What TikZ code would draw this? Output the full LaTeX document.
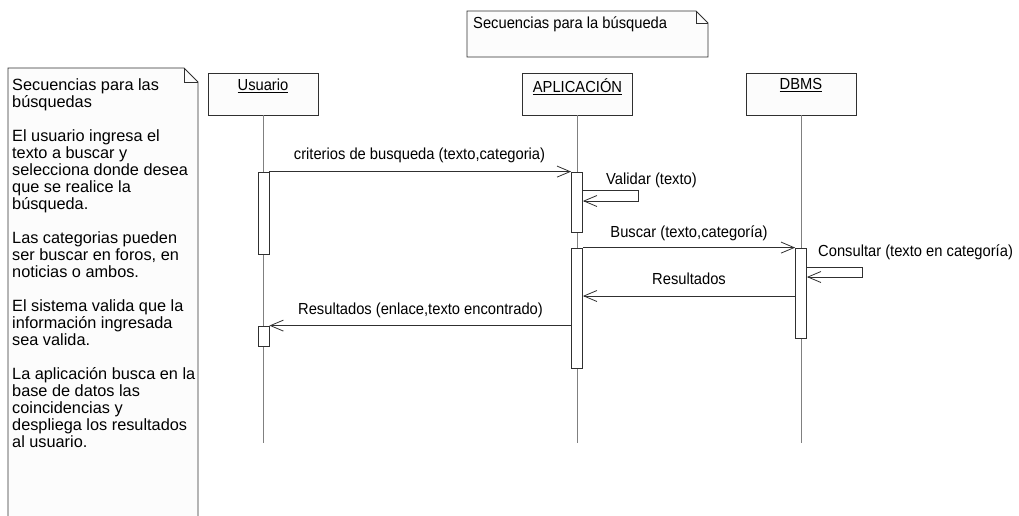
\documentclass[tikz,border=0pt]{standalone}
\usepackage{fontspec}
\setmainfont{Liberation Sans}
\newfontfamily\narrowsans[FakeStretch=0.92]{Liberation Sans}
\usetikzlibrary{arrows.meta}
\definecolor{boxfill}{HTML}{FCFCFC}
\definecolor{edge}{HTML}{303030}
\definecolor{life}{HTML}{808080}
\tikzset{
  txt/.style={font=\narrowsans\fontsize{16}{17}\selectfont, inner sep=0pt, text=black},
  notetxt/.style={font=\fontsize{16.3}{17}\selectfont, inner sep=0pt, text=black},
  head/.style={draw=edge, fill=boxfill, line width=0.8pt, minimum width=110pt, minimum height=42pt, inner sep=0pt},
  act/.style={draw=edge, fill=white, line width=0.8pt, minimum width=11pt, inner sep=0pt},
  lifeline/.style={draw=life, line width=0.9pt},
  msg/.style={draw=edge, line width=0.8pt, -{Straight Barb[length=13pt, width=11pt, line width=0.8pt]}},
  notebox/.style={draw=edge, fill=boxfill, line width=0.8pt},
}
\begin{document}
\begin{tikzpicture}[x=1pt, y=-1pt]
\useasboundingbox (0,0) rectangle (1019,515);
% top note
\draw[notebox] (467,11) -- (696,11) -- (708,23) -- (708,57) -- (467,57) -- cycle;
\draw[edge, line width=0.8pt] (696,11) -- (696,23) -- (708,23);
\node[txt, anchor=west] (topnote) at (473,24) {Secuencias para la búsqueda};
% left note
\draw[notebox] (8,520) -- (8,68) -- (184,68) -- (198,82) -- (198,520);
\draw[edge, line width=0.8pt] (184,68) -- (184,82) -- (198,82);
\node[notetxt, anchor=north west, align=left] (leftnote) at (12,78) {Secuencias para las\\búsquedas\\[17pt]El usuario ingresa el\\texto a buscar y\\selecciona donde desea\\que se realice la\\búsqueda.\\[17pt]Las categorias pueden\\ser buscar en foros, en\\noticias o ambos.\\[17pt]El sistema valida que la\\información ingresada\\sea valida.\\[17pt]La aplicación busca en la\\base de datos las\\coincidencias y\\despliega los resultados\\al usuario.};
% heads
\node[head] (usr) at (263,94) {};
\node[head] (app) at (577.5,94) {};
\node[head] (dbms) at (801,94) {};
\node[txt, anchor=north] (usrl) at (usr.north) [yshift=-6pt] {\underline{Usuario}};
\node[txt, anchor=north] (appl) at (app.north) [yshift=-6pt] {\underline{APLICACIÓN}};
\node[txt, anchor=north] (dbmsl) at (dbms.north) [yshift=-6pt] {\underline{DBMS}};
% lifelines
\coordinate (usrend) at (263,443);
\coordinate (append) at (577.5,443);
\coordinate (dbmsend) at (801,443);
\draw[lifeline] (usr.south) -- (usrend);
\draw[lifeline] (app.south) -- (append);
\draw[lifeline] (dbms.south) -- (dbmsend);
% activations
\node[act, minimum height=82pt] (u1) at (263.5,213) {};
\node[act, minimum height=20pt] (u2) at (263.5,336) {};
\node[act, minimum height=60pt] (a1) at (577,202) {};
\node[act, minimum height=120pt] (a2) at (577,308) {};
\node[act, minimum height=90pt] (d1) at (801,293) {};
% messages
\draw[msg] (u1.north east) -- (a1.north west);
\node[txt] (m1) at (419.5,155) {criterios de busqueda (texto,categoria)};
\coordinate (v1) at (638,190);
\coordinate (v2) at (638,201);
\draw[msg] (a1.east |- v1) -- (v1) -- (v2) -- (a1.east |- v2);
\node[txt, anchor=west] (m2) at (606,180) {Validar (texto)};
\draw[msg] (a2.north east) -- (d1.north west);
\node[txt] (m3) at (689,233) {Buscar (texto,categoría)};
\coordinate (c1) at (862,267);
\coordinate (c2) at (862,277);
\draw[msg] (d1.east |- c1) -- (c1) -- (c2) -- (d1.east |- c2);
\node[txt, anchor=west] (m4) at (818,252) {Consultar (texto en categoría)};
\coordinate (r1) at (0,296);
\draw[msg] (d1.west |- r1) -- (a2.east |- r1);
\node[txt] (m5) at (689,279) {Resultados};
\draw[msg] (a2.west |- u2.north) -- (u2.north east);
\node[txt] (m6) at (420.5,310) {Resultados (enlace,texto encontrado)};
\end{tikzpicture}
\end{document}
